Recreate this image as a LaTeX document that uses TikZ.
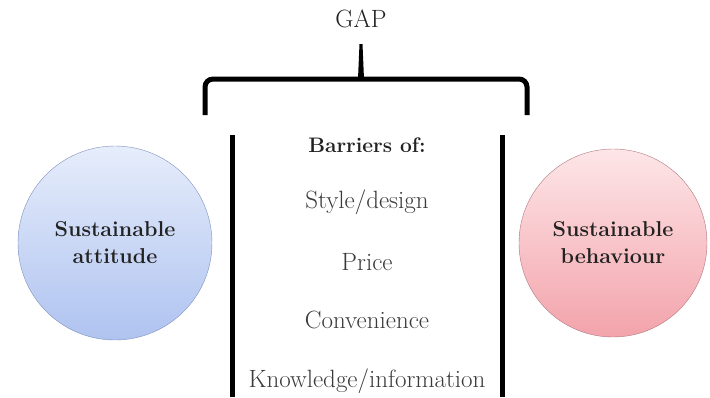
\documentclass[tikz,border=0pt]{standalone}
\usepackage{tikz}
\usetikzlibrary{positioning}

\definecolor{attblue}{HTML}{AFC3F0}
\definecolor{attblueTop}{HTML}{E6EDFB}
\definecolor{attblueLine}{HTML}{7F90BD}
\definecolor{behred}{HTML}{F3A3AB}
\definecolor{behredTop}{HTML}{FDE6E8}
\definecolor{behredLine}{HTML}{B07880}
\definecolor{txtgray}{HTML}{3A3A3A}
\definecolor{txtdark}{HTML}{222222}

\begin{document}
\begin{tikzpicture}[x=1pt,y=-1pt,
    blob/.style={circle,minimum size=194pt,inner sep=0pt,align=center,
      font=\fontsize{21.5}{27}\selectfont\bfseries,text=txtdark},
    item/.style={font=\fontsize{25}{29}\selectfont,text=txtgray},
    bar/.style={line width=5pt},
  ]
    \useasboundingbox (0,0) rectangle (710,397);
    % the two circles
    \node[blob,draw=attblueLine,top color=attblueTop,bottom color=attblue] (att) at (115,243) {Sustainable\\attitude};
    \node[blob,draw=behredLine,top color=behredTop,bottom color=behred,minimum size=188pt] (beh) at (613,243) {Sustainable\\behaviour};
    % barriers in the middle
    \node[item,font=\fontsize{21}{25}\selectfont\bfseries,text=txtdark] (bar0) at (367,145) {Barriers of:};
    \node[item] (bar1) at (367,202) {Style/design};
    \node[item] (bar2) at (367,262) {Price};
    \node[item] (bar3) at (367,320) {Convenience};
    \node[item] (bar4) at (367,381) {Knowledge/information};
    \draw[bar] (232,135) -- (232,397);
    \draw[bar] (502,135) -- (502,397);
    % the brace
    \node[font=\fontsize{25}{29}\selectfont,text=txtdark] (gap) at (361,19) {GAP};
    \draw[line width=5pt,rounded corners=8pt] (205,115) -- (205,79) -- (527,79) -- (527,115);
    \fill (358,79) -- (359.5,44) -- (362.5,44) -- (364,79) -- cycle;
\end{tikzpicture}
\end{document}
